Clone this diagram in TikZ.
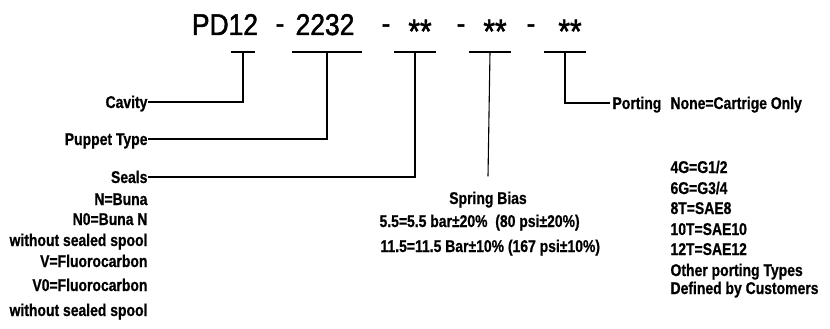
\documentclass[tikz,border=0pt]{standalone}
\usepackage{fontspec}
\setmainfont{Liberation Sans}
\newfontfamily\titlefont{Liberation Sans}[FakeStretch=0.88, FakeBold=1.6]
\newfontfamily\labelfont{Liberation Sans}[FakeStretch=0.82, FakeBold=0.7]
\usetikzlibrary{calc,positioning}

\begin{document}
\begin{tikzpicture}
  [x=1pt, y=-1pt, line width=1.1pt,
   code/.style={inner sep=0, anchor=base, font=\titlefont\fontsize{30}{34}\selectfont},
   star/.style={inner sep=0, anchor=base, font=\titlefont\fontsize{34}{36}\selectfont},
   lbl/.style={inner sep=0, text height=12pt, text depth=0pt,
     font=\labelfont\bfseries\fontsize{17}{20}\selectfont}]

  \useasboundingbox (0,0) rectangle (830,329);

  % model code
  \node [code] (pd) at (225,35) {PD12};
  \node [code] (dashA) at (280,33.5) {-};
  \node [code] (type) at (325,35) {2232};
  \node [code] (dashB) at (386,33.5) {-};
  \node [star] (sealCode) at (420,43) {**};
  \node [code] (dashC) at (461,33.5) {-};
  \node [star] (springCode) at (495,43) {**};
  \node [code] (dashD) at (531,33.5) {-};
  \node [star] (portCode) at (570,43) {**};

  % T bars under the code
  \coordinate (tA) at (243,52);
  \coordinate (tB) at (327,52);
  \coordinate (tC) at (415,52);
  \coordinate (tD) at (490,52);
  \coordinate (tE) at (565,52);
  \foreach \c/\w in {tA/12, tB/35, tC/21, tD/21, tE/21}
    \draw ([xshift=-\w pt]\c) -- ([xshift=\w pt]\c);

  % left column
  \node [lbl, anchor=east] (cavity) at (148,102) {Cavity};
  \node [lbl, anchor=east] (puppet) at (148,139) {Puppet Type};
  \node [lbl, anchor=east] (seals) at (148,177) {Seals};
  \node [lbl, anchor=east] (sealN) at (148,199) {N=Buna};
  \node [lbl, anchor=east] (sealNo) at (148,219) {N0=Buna N};
  \node [lbl, anchor=east] (sealNoTxt) at (148,240) {without sealed spool};
  \node [lbl, anchor=east] (sealV) at (148,261) {V=Fluorocarbon};
  \node [lbl, anchor=east] (sealVo) at (148,285) {V0=Fluorocarbon};
  \node [lbl, anchor=east] (sealVoTxt) at (148,310) {without sealed spool};

  \draw (cavity.east) -| (tA);
  \draw (puppet.east) -| (tB);
  \draw (seals.east) -| (tC);

  % spring bias
  \node [lbl] (spring) at (488,198) {Spring Bias};
  \node [lbl, anchor=west] (springA) at (379,221) {5.5=5.5 bar±20\%\ \ (80 psi±20\%)};
  \node [lbl, anchor=west] (springB) at (380,246) {11.5=11.5 Bar±10\% (167 psi±10\%)};
  \draw (tD) -- ([yshift=15pt]spring.north);

  % porting
  \node [lbl, anchor=west] (porting) at (612,103) {Porting};
  \node [lbl, anchor=west] (portNone) at (670,103) {None=Cartrige Only};
  \node [lbl, anchor=west] (port4G) at (670,167) {4G=G1/2};
  \node [lbl, anchor=west] (port6G) at (670,188) {6G=G3/4};
  \node [lbl, anchor=west] (port8T) at (670,208) {8T=SAE8};
  \node [lbl, anchor=west] (port10T) at (670,229) {10T=SAE10};
  \node [lbl, anchor=west] (port12T) at (670,249) {12T=SAE12};
  \node [lbl, anchor=west] (portOther) at (670,270) {Other porting Types};
  \node [lbl, anchor=west] (portCust) at (670,288) {Defined by Customers};
  \draw (tE) |- ([xshift=-2pt]porting.west);

\end{tikzpicture}
\end{document}
